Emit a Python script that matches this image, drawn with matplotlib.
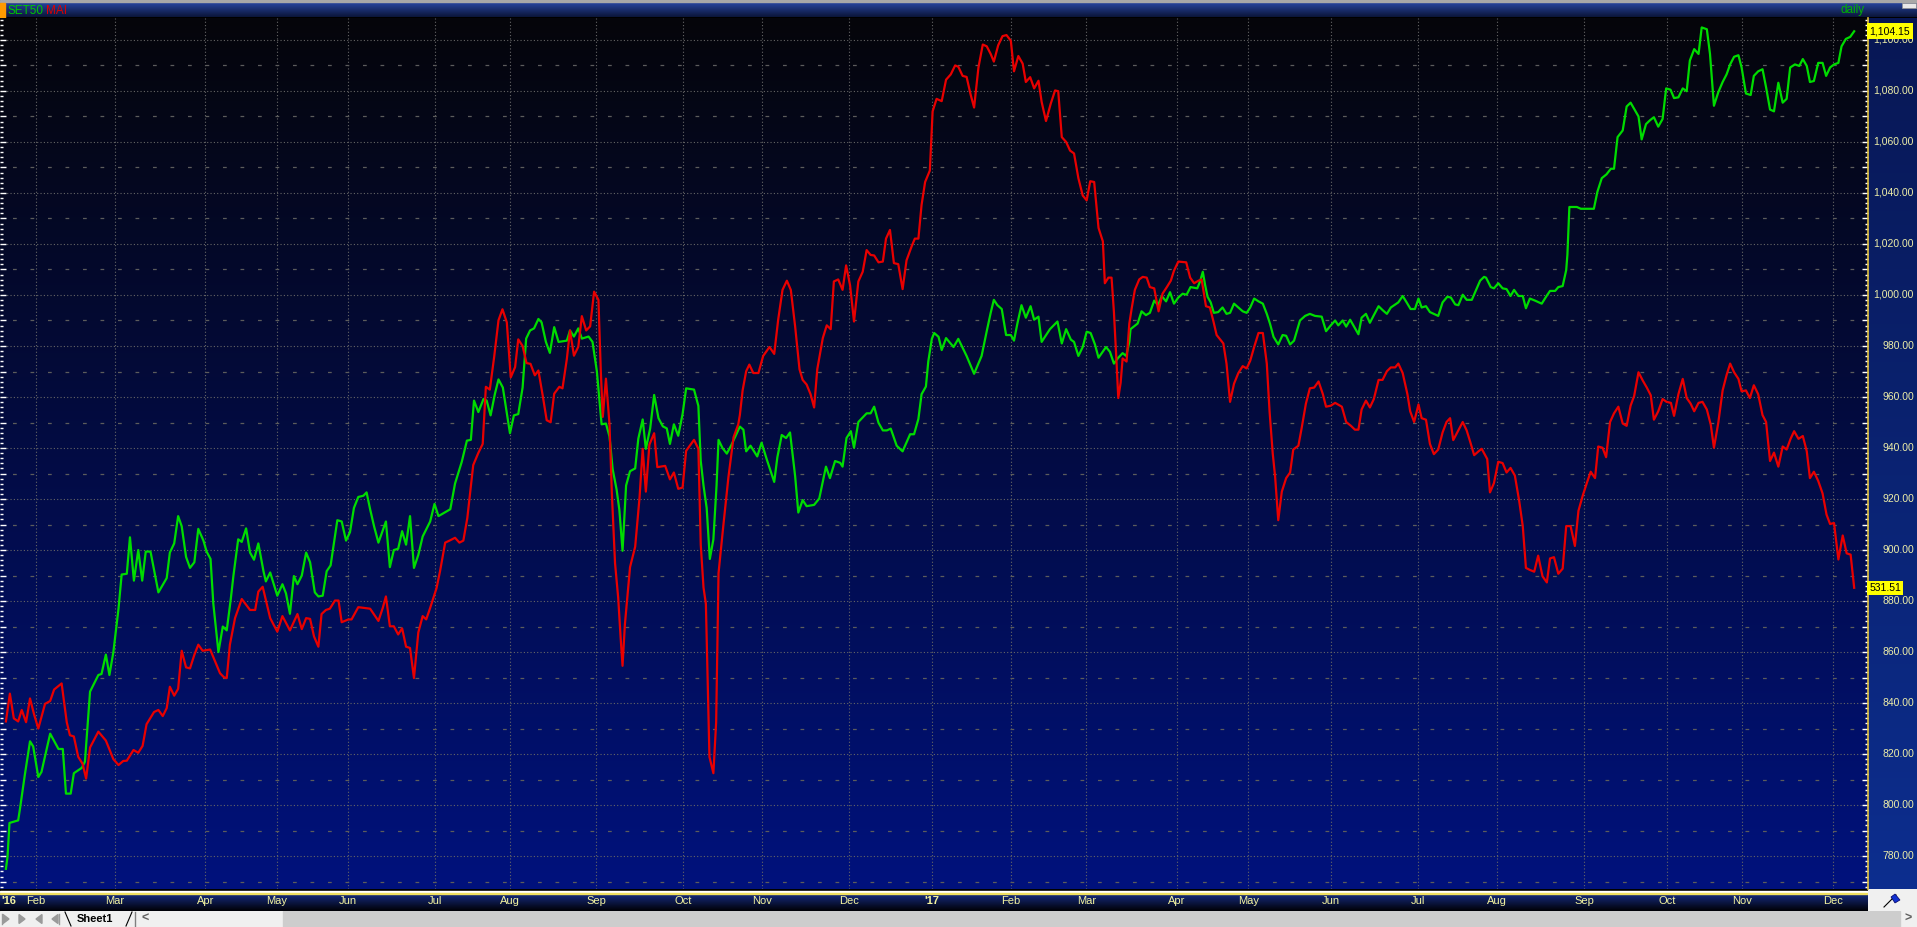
import numpy as np
import matplotlib
matplotlib.use("Agg")
import matplotlib.pyplot as plt
from matplotlib.patches import Rectangle, Polygon
from matplotlib.ticker import MultipleLocator

plt.rcParams['font.family'] = ['Liberation Sans', 'DejaVu Sans']

# trading-day number since the first bar, and close (chart scale)
set50_day = [1.5, 1.9, 2.4, 4.6, 5.1, 6.3, 7.6, 8.4, 9.7, 10.5, 12.7, 14.8, 15.9, 16.7, 17.9, 18.7, 20.7, 21.5,
             22.8, 24.9, 25.7, 26.8, 27.7, 28.7, 30.0, 30.8, 32.1, 32.9, 33.9, 35.0, 36.0, 36.9, 38.1, 40.1, 42.2,
             43.0, 44.1, 45.1, 46.0, 47.1, 48.1, 49.2, 50.2, 51.5, 52.3, 53.3, 54.0, 55.3, 56.4, 57.4, 58.4, 59.1,
             60.3, 61.2, 62.3, 63.3, 64.3, 65.4, 66.7, 67.3, 68.4, 70.2, 71.5, 72.4, 73.4, 74.4, 75.3, 76.4, 77.5,
             78.5, 79.7, 80.6, 81.7, 82.7, 83.7, 85.4, 86.5, 87.6, 88.6, 89.6, 90.7, 92.0, 92.8,
             93.7, 94.7, 95.8, 97.7, 98.7, 99.7, 100.8, 101.8, 102.8, 103.8, 104.8, 105.9, 107.0, 108.9, 110.0,
             111.0, 112.2, 114.0, 115.2, 116.9, 118.2, 119.2, 120.0, 121.1, 122.4, 123.2, 124.2, 125.3, 126.2,
             127.3, 129.1, 130.1, 131.2, 132.3, 133.2, 134.2, 135.2, 136.3, 137.1, 138.2, 139.2, 140.3, 141.4,
             143.5, 144.3, 145.3, 146.4, 147.3, 149.0, 150.0, 151.1, 152.3, 153.4, 154.3, 155.1, 156.1, 156.8,
             157.6, 158.5, 159.5, 160.8, 161.6, 162.7, 163.5, 164.6, 165.6, 166.7, 167.8, 168.8, 169.6, 170.6,
             171.7, 172.8, 173.7, 175.7, 176.8, 177.4, 178.1, 178.9, 179.7, 180.6, 181.4, 181.9, 182.9, 184.0,
             185.2, 186.4,
             187.3, 188.2, 188.9, 190.0, 191.7, 192.8, 194.1, 196.0, 196.8, 197.9, 199.0, 200.0, 201.3, 202.1,
             203.2, 204.2, 206.1, 207.4, 209.1, 210.1, 211.4, 212.7, 213.3, 214.3, 215.4, 216.2, 217.3, 219.4,
             220.4, 221.3, 222.4, 223.5, 224.5, 225.5, 227.0, 228.5, 230.4, 231.4, 232.5, 233.3, 234.4, 235.0,
             235.9, 236.5, 237.6, 238.4, 239.5, 241.4, 242.6, 244.7, 246.6, 248.5, 249.8, 250.8, 251.6, 252.5,
             253.6, 254.7, 255.9, 256.7, 257.6, 258.6, 259.7, 260.9, 261.8, 262.9, 263.7, 265.8, 267.7, 268.8,
             269.9, 271.1, 271.9, 273.0, 274.1, 275.1, 276.1, 277.2, 278.1,
             280.0, 281.0, 282.0, 283.1, 284.2, 285.1, 285.9, 286.2, 288.0, 289.0, 290.1, 291.1, 292.2, 293.2,
             294.1, 295.2, 296.2, 297.2, 298.3, 299.4, 300.4, 301.4, 303.1, 303.8, 304.5, 305.1, 305.7, 306.5,
             307.3, 308.4, 309.5, 310.5, 311.4, 312.4, 314.6, 315.6, 316.5, 317.5, 318.6, 319.7, 320.7, 321.5,
             322.4, 323.6, 324.7, 325.6, 326.6, 327.6, 329.1, 330.4, 331.6, 332.9, 334.6, 335.7, 336.9, 338.0,
             338.8, 339.9, 340.8, 341.8, 343.9, 344.7, 345.8, 346.8, 347.8, 349.0, 350.0, 351.1, 352.1, 354.0,
             355.1, 356.1, 357.1, 358.2, 359.1, 359.9, 361.0, 362.0, 363.0, 364.1, 365.2, 366.4, 367.3, 368.4,
             369.2, 370.3, 371.3, 372.6, 373.7, 374.7, 375.7,
             376.2, 377.4, 378.2, 379.3, 380.4, 381.4, 382.4, 383.3, 384.4, 385.5, 386.3, 387.3, 388.6, 390.3,
             391.4, 392.4, 393.7, 394.5, 395.6, 396.5, 396.8, 397.3, 399.2, 400.2, 403.5, 404.4, 405.5, 406.7,
             407.8, 408.6, 409.5, 410.8, 411.8, 412.8, 413.7, 414.8, 415.6, 416.7, 417.7, 418.7, 419.8, 420.9,
             421.8, 422.9, 423.8, 424.9, 426.0, 427.0, 427.8, 428.9, 430.0, 430.8, 432.1, 432.9, 433.9, 435.0,
             436.1, 437.1, 438.0, 439.0, 440.1, 440.9, 442.0, 443.2, 444.0, 445.1, 446.2, 447.1, 448.1, 449.1,
             450.2, 451.3, 452.3, 453.2, 454.4, 455.5, 456.4, 457.4, 458.2, 459.2, 460.3, 461.4, 462.3, 463.3,
             464.3, 465.4, 466.2, 467.3, 468.4, 469.4]
set50_val = [775, 779.7, 793, 794, 799, 812, 825, 823, 811, 813, 828, 822, 822, 804.5, 804.5, 812.5, 814.6, 817,
             844.5, 851, 851.4, 859, 851, 860, 877, 890.4, 890.7, 905, 888, 900, 888, 899.4, 899.4, 883.4, 889,
             899, 902.6, 913.3, 909.3, 897.3, 893, 895.2, 908.3, 903.7, 899.4, 896.5, 879, 860, 870, 868.5, 880.5,
             890, 904.2, 903.2, 908.5, 899, 896.2, 902.6, 891.7, 887.7, 891.2, 882.1, 886.6, 883, 875, 889.8,
             886.6, 890, 899, 895.2, 883.4, 881.8, 882.1, 891.7, 894, 911.7, 911.2, 903.7, 907, 916.5, 920.8,
             921.3, 922.6,
             916, 909.3, 902.9, 911.2, 893.3, 900, 900.5, 907.4, 902.1, 913.3, 893, 898.1, 905.3, 911.2, 918.1,
             913.3, 914.4, 916, 926.1, 934.6, 942.9, 943.2, 958.6, 954.1, 959.2, 958.6, 952.8, 961.3, 966.9,
             963.7, 945.8, 952.8, 953.3, 963.7, 982.9, 986.1, 986.9, 990.6, 989.3, 981.6, 977.3, 987.4, 981.6,
             982.1, 986.1, 983.7, 986.9, 982.9, 983.7, 981.6, 970.1, 949.3, 949.6, 944.5, 931.7, 923.7, 915.7,
             899.7, 925.3, 930.9, 932, 943.7, 951.2, 939.7, 947.7, 960.8, 951.7, 948.5, 947.7, 941.6, 949.3,
             944.8, 953.3, 963.4, 962.9, 956.5, 934.9, 925.3, 916.5, 896.5, 904.2, 925.3, 943.2, 940, 937.8,
             941.3, 945.3,
             948.4, 947.2, 938.7, 940.9, 936.7, 942.1, 935.6, 926.7, 936.4, 945.1, 943.9, 946.1, 928.9, 914.7,
             919.6, 917.2, 917.7, 920.2, 932.7, 928.2, 934.9, 934.2, 932.7, 943.9, 946.6, 940.1, 950.2, 953.6,
             953.6, 956.2, 949.9, 946.9, 946.9, 947.6, 940.9, 938.7, 945.4, 945.4, 951.4, 961.1, 964.1, 973.9,
             982.8, 985.1, 983.6, 978.4, 983.1, 979.6, 982.8, 976.1, 969.1, 976.1, 985.8, 993, 998.1, 996,
             994.5, 984.3, 984.3, 982.1, 989.1, 996, 991.1, 995.6, 990.3, 991.5, 981.6, 986.6, 989.6, 981,
             986.6, 982.5, 981.6, 976.1, 979.6, 985.6, 985.1, 980.6, 975.4,
             979.6, 977.7, 973.1, 975.4, 977.2, 976.1, 981.6, 986.6, 988.8, 993.6, 992.1, 993, 997.8, 996,
             999.6, 997.5, 1001.1, 996.6, 999, 1000.5, 1000.1, 1003.1, 1002.6, 1005.3, 1009.1, 1003.8, 999.3, 997.1,
             993, 993.3, 995.1, 992.6, 993, 996.6, 993.6, 993, 995.1, 998.6, 997.5, 996.6, 992.6, 988.8,
             983.6, 980.6, 984.3, 984, 980.6, 982.1, 990, 991.8, 992.6, 991.8, 991.5, 985.8, 988.1, 990,
             988.1, 990, 987.6, 990.3, 984.6, 991.1, 992.6, 989.1, 992.1, 995.6, 994.1, 992.6, 995.1, 997.1,
             999.6, 997.1, 994.5, 994.5, 998.6, 995.1, 995.6, 993.3, 992.6, 991.8, 997.1, 999.3, 999, 996.3,
             996, 1000.1, 998.1, 998.1, 1002, 1005.6, 1007.1,
             1006.8, 1003.1, 1002.6, 1004.6, 1002.6, 1002.3, 999.6, 1002, 999.6, 999.6, 994.8, 998.6, 997.8, 996.6,
             999.3, 1001.6, 1001.6, 1003.1, 1003.5, 1009.8, 1015.8, 1034.5, 1034.5, 1033.8, 1033.8, 1040.5, 1045.8, 1047.3,
             1049.5, 1049.5, 1061.9, 1064.5, 1073.9, 1075.4, 1073, 1070, 1061, 1067, 1068.5, 1069.7, 1066, 1069,
             1081, 1080.5, 1077.2, 1077.5, 1081, 1079.9, 1091.9, 1096.4, 1094.5, 1104.9, 1104.2, 1094.5, 1074.2, 1079.5,
             1083.5, 1086.5, 1090.4, 1093.4, 1094, 1089.2, 1079, 1078.4, 1085.9, 1087.7, 1088.5, 1081.4, 1072.7, 1072,
             1083.2, 1075.4, 1076.9, 1089.2, 1090.4, 1089.8, 1092.5, 1089.8, 1083.5, 1083.9, 1091, 1091, 1085.9, 1089.2,
             1090.4, 1091, 1097.5, 1100.4, 1101.2, 1103.4]

mai_day = [1.5, 2.5, 3.5, 4.6, 5.5, 6.6, 7.6, 8.6, 9.7, 11.4, 12.7, 13.7, 15.6, 16.9, 17.7, 18.7, 19.8, 20.9,
           21.8, 22.8, 24.9, 26.8, 28.7, 30.0, 31.2, 32.1, 33.8, 35.0, 36.1, 37.1, 39.0, 40.1, 41.2, 42.2, 43.0,
           44.1, 45.1, 46.0, 47.1, 48.1, 49.2, 50.2, 51.3, 53.2, 54.4, 55.7, 56.7, 57.4, 58.2, 59.5, 61.2, 63.3,
           64.6, 65.4, 66.5, 68.4, 70.2, 71.5, 73.4, 75.3, 76.4, 77.5, 78.5, 79.5, 80.6, 81.4, 82.5, 83.5, 84.8,
           85.7, 86.5, 88.2, 89.0, 90.7,
           93.7, 95.8, 96.9, 97.7, 98.7, 99.7, 100.8, 101.8, 102.8, 103.8, 104.8, 105.9, 107.0, 107.9, 108.9,
           110.5, 111.4, 112.7, 113.8, 115.2, 116.3, 117.3, 118.3, 119.8, 121.1, 122.2, 123.0, 124.0, 125.1,
           126.2, 127.2, 128.3, 129.3, 130.4, 131.2, 132.3, 133.3, 134.3, 135.4, 136.3, 137.4, 138.4, 139.4,
           140.3, 141.6, 142.4, 143.5, 144.3, 145.3, 146.4, 147.3, 148.4, 149.4, 150.4, 151.5, 152.1, 152.6,
           153.4, 154.3, 154.9, 155.7, 156.5, 157.1, 157.6, 158.2, 159.5, 160.8, 161.9, 162.7, 163.5, 164.4,
           165.6, 166.4, 168.4, 169.6, 170.6, 171.7, 172.8, 173.7, 175.7, 176.8, 177.4, 178.1, 178.7, 179.6,
           180.6, 181.3, 181.9, 183.1, 184.4, 185.7, 186.9,
           187.3, 188.0, 188.9, 189.7, 190.7, 192.0, 193.2, 194.8, 196.0, 197.0, 198.1, 199.2, 200.2, 201.3,
           202.4, 203.2, 204.2, 205.2, 206.1, 206.9, 208.3, 209.3, 210.3, 211.1, 212.2, 213.3, 214.2, 215.2,
           216.2, 217.3, 218.4, 219.4, 220.4, 221.3, 222.4, 223.5, 224.3, 225.3, 226.3, 227.4, 228.5, 229.5,
           230.8, 231.6, 232.5, 233.3, 234.2, 235.4, 236.1, 237.1, 238.4, 239.5, 240.7, 241.8, 242.6, 243.7,
           244.7, 245.7, 246.6, 247.7, 248.8, 249.8, 250.8, 251.6, 252.7, 253.8, 254.8, 255.9, 256.7, 257.8,
           258.9, 259.7, 260.8, 261.8, 262.9, 263.7, 264.8, 266.0, 267.1, 267.9, 268.8, 269.9, 270.9, 271.9,
           273.0, 274.1, 275.1, 276.0, 277.0, 278.1,
           279.2, 279.7, 280.6, 281.4, 282.0, 282.7, 283.1, 283.7, 284.2, 285.2, 285.9, 286.5, 287.3, 288.4,
           289.3, 290.3, 291.1, 292.2, 293.3, 294.3, 295.4, 296.4, 297.2, 298.3, 300.3, 301.3, 302.3, 303.4,
           304.2, 305.3, 306.3, 307.2, 308.0, 309.7, 310.5, 311.4, 312.4, 313.5, 314.6, 315.6, 316.5, 317.5,
           318.6, 319.7, 320.7, 321.4, 322.2, 322.8, 323.6, 324.5, 325.6, 326.6, 327.4, 328.7, 329.5, 330.6,
           331.6, 332.7, 333.8, 334.9, 335.7, 336.9, 338.0, 339.7, 340.8, 342.0, 343.0, 343.9, 344.7, 345.8,
           346.8, 347.8, 349.0, 350.0, 351.1, 352.1, 353.2, 354.0, 355.1, 356.3, 357.0, 358.0, 359.1, 359.9,
           361.0, 362.0, 363.0, 364.1, 365.2, 366.2, 367.1, 367.9, 369.2, 370.3, 371.3, 372.2, 373.2, 374.3,
           375.1,
           376.5, 377.2, 378.2, 379.3, 380.4, 381.4, 382.4, 383.5, 384.6, 385.5, 386.3, 387.3, 388.4, 389.4,
           390.5, 391.6, 392.4, 393.4, 394.5, 395.6, 396.5, 397.6, 398.7, 399.6, 400.7, 401.7, 402.7, 403.8,
           404.6, 405.7, 406.6, 407.6, 408.6, 409.7, 410.8, 411.8, 412.8, 413.7, 414.8, 415.9, 416.9, 417.9,
           418.7, 419.8, 420.9, 421.9, 423.0, 423.8, 424.9, 426.0, 427.0, 428.0, 428.9, 430.0, 431.0, 432.1,
           433.1, 433.9, 435.0, 436.1, 437.1, 438.0, 439.0, 440.1, 440.9, 442.0, 443.0, 444.0, 445.1, 446.2,
           447.1, 448.1, 449.1, 450.2, 451.3, 452.3, 453.3, 454.2, 455.3, 456.4, 457.4, 458.2, 459.2, 460.3,
           461.4, 462.4, 463.3, 464.3, 465.4, 466.5, 467.5, 468.5, 469.4]
mai_val = [832.8, 843.7, 834, 832.8, 837.3, 832.5, 841.8, 835.7, 830, 839.7, 840.8, 845.3, 847.7, 832.5, 827.4,
           826.9, 818.9, 816.2, 810.4, 822.6, 828.8, 825.3, 818, 815.7, 817.3, 817.4, 821.6, 820.5, 823.2, 831.7,
           836.5, 837.3, 834.9, 838, 846.4, 842.9, 845.6, 860.5, 854, 853.6, 858.9, 862.9, 860.5, 861, 856.5,
           851.7, 850.1, 849.8, 862.9, 873.3, 880.8, 876.5, 876.5, 883.7, 885.6, 873.3, 868, 874.1, 868.5, 874.9,
           869, 873.3, 873, 866.1, 862.1, 874.9, 876.5, 877, 880.2, 880.2, 871.7, 872.8, 872.8, 877.6,
           877, 872.2, 877.3, 881.8, 870.1, 870.1, 866.9, 869.3, 862.1, 861.6, 849.8, 867.7, 874.1, 872.8, 877.3,
           885, 891.7, 902.9, 903.7, 904.8, 902.9, 903.7, 912.5, 933.3, 938.1, 941.6, 964, 962.9, 975.7,
           990.1, 994.4, 989.3, 967.7, 971.7, 982.6, 980, 973.3, 973, 968.5, 970.4, 960.5, 950.9, 950.1,
           961.3, 964, 963.4, 974.9, 986.1, 976.2, 979.7, 991.7, 986.1, 987.7, 1001.3, 998.1, 970.1, 952.2,
           967.2, 949.3, 922.1, 894.9, 881.3, 866.1, 854.6, 870.9, 893.3, 901.3, 920.5, 939.7, 922.9, 941.3,
           945.8, 932.5, 933, 927.7, 930.4, 924, 924.5, 938.9, 943.2, 939.7, 902.1, 885.3, 878.9, 818.9,
           812.5, 832.5, 890.9, 909.3, 928.5, 944.2, 949.3,
           952.9, 962.6, 970.1, 972.7, 969.4, 969.4, 976.1, 979.6, 976.9, 990.3, 1002, 1005.6, 1002, 987.6,
           970.9, 966.7, 964.9, 961.1, 955.9, 970.9, 983.1, 988.1, 986.6, 1005.3, 1006.1, 1002, 1011.6, 1003.8,
           989.6, 1005.3, 1009.1, 1017.6, 1015.7, 1015.5, 1012.8, 1013.1, 1022.1, 1025.5, 1012.5, 1012.1, 1002.3, 1013.6,
           1019.1, 1022.1, 1022.1, 1035.3, 1044.3, 1048.8, 1072, 1076.9, 1076, 1084.4, 1086.5, 1090, 1089.5, 1085.9,
           1085.5, 1078.7, 1073.5, 1089.2, 1098.2, 1097.5, 1094.5, 1091.5, 1097.9, 1101.5, 1101.9, 1099.7, 1087.7, 1093.7,
           1090.7, 1083.5, 1085.4, 1081, 1084, 1075.7, 1068.2, 1075, 1080.2, 1079.9, 1061.9, 1060, 1056.6, 1055.5,
           1045.8, 1039, 1037.1, 1044.6, 1044.3, 1026.3,
           1021, 1004.6, 1006.8, 1006.8, 993.3, 972.4, 959.6, 965.6, 975.1, 973.9, 988.8, 994.8, 1002, 1006.1,
           1007.1, 1006.8, 1003.1, 1002.6, 993.6, 1000.5, 1003.1, 1005.6, 1009.5, 1013.1, 1012.8, 1006.8, 1004.6, 1005.6,
           1006.1, 995.6, 995.1, 989.6, 984.3, 981, 973.1, 958.1, 965.2, 969.4, 972.1, 971.2, 974.2, 979.6,
           985.1, 985.1, 973.1, 954.4, 937.9, 928.9, 911.7, 922.9, 928.2, 930.4, 939.4, 940.9, 947.6, 957.4,
           963.4, 963.7, 966.1, 961.1, 956.2, 956.6, 957.7, 956.2, 950.2, 948.7, 947.2, 947.2, 955.1, 958.6,
           955.9, 959.2, 966.7, 966.7, 970.1, 971.6, 971.6, 973.1, 969.4, 961.1, 954.4, 950.2, 957.1, 951.7,
           951.1, 941.6, 937.6, 939.4, 946.1, 950.2, 951.7, 943.1, 946.9, 950.2, 946.9, 942.4, 937.2, 938.7,
           939.7,
           935.7, 922.6, 926.2, 934.6, 934.1, 930.4, 932.2, 929.2, 919.2, 909.4, 893, 892.2, 891.5, 897.8,
           889.7, 887.3, 896.7, 897.2, 890.7, 892.7, 909.4, 909.4, 901.6, 915.4, 921.4, 926.2, 930.7, 928.2,
           940.6, 940.1, 936.4, 950.2, 953.6, 956.2, 949.6, 948.7, 956.6, 960.4, 969.7, 966.4, 963.7, 960.7,
           951.1, 954.4, 959.2, 958.1, 957.7, 952.6, 961.1, 967.1, 959.6, 957.4, 954.4, 957.7, 958.1, 955.1,
           949.1, 940.1, 949.9, 962.6, 968.6, 973.1, 969.7, 967.1, 962.2, 962.6, 959.6, 964.6, 961.1, 952.9,
           950.2, 934.9, 938.2, 932.7, 940.6, 939.4, 943.6, 946.6, 943.6, 944.7, 938.7, 928.2, 930.7, 927.1,
           922.2, 913.9, 910.2, 910.6, 896.3, 905.7, 898.7, 898.2, 885.2]

# month labels and the trading-day number where each month starts
month_names = ['Feb', 'Mar', 'Apr', 'May', 'Jun', 'Jul', 'Aug', 'Sep', 'Oct', 'Nov', 'Dec', "'17",
               'Feb', 'Mar', 'Apr', 'May', 'Jun', 'Jul', 'Aug', 'Sep', 'Oct', 'Nov', 'Dec']
month_start = [9, 29, 52, 70, 88, 110, 129, 151, 173, 193, 215, 236,
               256, 275, 298, 316, 337, 359, 379, 401, 422, 441, 464]
last_labels = ['1,104.15', '531.51']

W, H = 1917, 927
XMAX = 472.9
YMIN, YMAX = 767.1, 1108.6


def box(x0, y0, x1, y1):
    return [x0 / W, 1 - y1 / H, (x1 - x0) / W, (y1 - y0) / H]


def vgrad(ax, top, bottom, extent, z=0):
    c = np.linspace(np.array(top), np.array(bottom), 256)[:, None, :]
    ax.imshow(c, extent=extent, aspect='auto', origin='upper', zorder=z, interpolation='bilinear')


fig = plt.figure(figsize=(W / 100, H / 100), dpi=100)
fig.patch.set_facecolor('black')

# right scale panel
rp = fig.add_axes(box(1868, 18, 1917, 889), zorder=0)
vgrad(rp, (0.03, 0.09, 0.33), (0.05, 0.18, 0.56), [0, 1, 0, 1])
rp.set_xlim(0, 1)
rp.set_ylim(0, 1)
rp.axis('off')

# main chart
ax = fig.add_axes(box(0, 18, 1868, 889), zorder=2)
vgrad(ax, (0.02, 0.02, 0.04), (0.0, 0.07, 0.49), [0, XMAX, YMIN, YMAX])
ax.set_xlim(0, XMAX)
ax.set_ylim(YMIN, YMAX)

for d in month_start:
    ax.axvline(d, color='#666666', lw=0.8, ls=(0, (1, 2)), zorder=1)
for v in range(780, 1101, 20):
    ax.axhline(v, color='#666666', lw=0.8, ls=(0, (1, 2)), zorder=1)
for v in range(770, 1101, 20):
    ax.axhline(v, color='#5c5c5c', lw=0.9, ls=(4, (3, 11)), zorder=1)

ax.plot(set50_day, set50_val, color='#00dc00', lw=1.6, zorder=3)
ax.plot(mai_day, mai_val, color='#e80000', lw=1.6, zorder=4)

ax.set_xticks([])
ax.yaxis.set_major_locator(MultipleLocator(10))
ax.yaxis.set_minor_locator(MultipleLocator(2))
ax.tick_params(axis='y', which='both', direction='in', left=True, right=True,
               labelleft=False, labelright=False, colors='white', width=1)
ax.tick_params(axis='y', which='major', length=4)
ax.tick_params(axis='y', which='minor', length=2.5)
for s in ['top', 'bottom', 'left']:
    ax.spines[s].set_visible(False)
ax.spines['right'].set_color('#e0c040')
ax.spines['right'].set_linewidth(1.2)

ytr = ax.get_yaxis_transform()
for v in range(780, 1101, 20):
    ax.text(1914 / 1868, v, f"{v:,.2f}", transform=ytr, ha='right', va='center',
            color='#eeeea8', fontsize=7.5, clip_on=False)

ax.text(1869.5 / 1868, set50_val[-1], last_labels[0], transform=ytr, ha='left', va='center',
        color='black', fontsize=7.5, clip_on=False, zorder=6,
        bbox=dict(facecolor='#ffff00', edgecolor='none', pad=2))
ax.text(1869.5 / 1868, mai_val[-1], last_labels[1], transform=ytr, ha='left', va='center',
        color='black', fontsize=7.5, clip_on=False, zorder=6,
        bbox=dict(facecolor='#ffff00', edgecolor='none', pad=1.5))

# title bar
tb = fig.add_axes(box(0, 0, 1917, 18), zorder=1)
tb.set_xlim(0, W)
tb.set_ylim(18, 0)
tb.axis('off')
tb.add_patch(Rectangle((0, 0), W, 18, color='black', zorder=0))
vgrad(tb, (0.16, 0.28, 0.64), (0.04, 0.08, 0.22), [0, W, 17, 2], z=1)
tb.add_patch(Rectangle((0, 0), W, 2, color='#a8a8a8', zorder=2))
tb.add_patch(Rectangle((0, 3), 5, 15, color='#ff9a00', zorder=2))
tb.add_patch(Rectangle((1902, 3), 14, 5, facecolor='#e8e8e8', edgecolor='#909090', lw=0.5, zorder=2))
tb.set_xlim(0, W)
tb.set_ylim(18, 0)
tb.text(7, 10.5, 'SET50', color='#00c800', fontsize=8.5, va='center', ha='left', zorder=3)
tb.text(46, 10.5, 'MAI', color='#e00000', fontsize=8.5, va='center', ha='left', zorder=3)
tb.text(1865, 9.5, 'daily', color='#00b400', fontsize=8.5, va='center', ha='right', zorder=3)

# date axis bar
bb = fig.add_axes(box(0, 889, 1868, 911), zorder=1)
bb.add_patch(Rectangle((0, 0), XMAX, 22, color='black', zorder=0))
vgrad(bb, (0.09, 0.18, 0.52), (0.0, 0.0, 0.02), [0, XMAX, 22, 5], z=1)
bb.axhspan(1.6, 2.6, color='white', zorder=2)
bb.axhspan(3.6, 4.6, color='#f0e060', zorder=2)
bb.set_xlim(0, XMAX)
bb.set_ylim(22, 0)
bb.axis('off')
bb.text(0.3, 12, "'16", color='#f4f4a0', fontsize=8, fontweight='bold', ha='left', va='center', zorder=3)
for name, d in zip(month_names, month_start):
    bb.text(d, 12, name, color='#f4f4a0', fontsize=8, ha='center', va='center', zorder=3,
            fontweight='bold' if name.startswith("'") else 'normal')

# corner with flag icon
cc = fig.add_axes(box(1868, 889, 1917, 911), zorder=1)
cc.set_xlim(1868, 1917)
cc.set_ylim(911, 889)
cc.axis('off')
cc.add_patch(Rectangle((1868, 889), 49, 22, color='#f0f0f0', zorder=0))
cc.plot([1884, 1896], [907, 895], color='black', lw=0.8, zorder=2)
cc.add_patch(Polygon([(1891, 897), (1895, 894), (1900, 900), (1895, 903)], closed=True,
                     facecolor='#1030d0', edgecolor='#000060', lw=0.5, zorder=3))

# sheet tab bar
sb = fig.add_axes(box(0, 911, 1917, 927), zorder=1)
sb.set_xlim(0, W)
sb.set_ylim(927, 911)
sb.axis('off')
sb.add_patch(Rectangle((0, 911), W, 16, color='#f0f0f0', zorder=0))
sb.add_patch(Rectangle((283, 911), 1617, 16, color='#cdcdcd', zorder=1))
for xc, dirn in [(6, -1), (22, -1), (39, 1), (55, 1)]:
    sb.add_patch(Polygon([(xc - 3 * dirn, 919), (xc + 3 * dirn, 914.5), (xc + 3 * dirn, 923.5)],
                         closed=True, color='#9a9a9a', zorder=2))
sb.plot([2, 2], [914, 924], color='#9a9a9a', lw=1, zorder=2)
sb.plot([59, 59], [914, 924], color='#9a9a9a', lw=1, zorder=2)
sb.plot([65, 71], [912, 926], color='black', lw=0.8, zorder=2)
sb.plot([126, 132], [926, 912], color='black', lw=0.8, zorder=2)
sb.plot([135, 135], [912, 927], color='#808080', lw=1, zorder=2)
sb.text(77, 919, 'Sheet1', color='black', fontsize=8, fontweight='bold', ha='left', va='center', zorder=3)
sb.text(145, 919, '<', color='#606060', fontsize=9, fontweight='bold', ha='center', va='center', zorder=3)
sb.text(1908, 919, '>', color='#606060', fontsize=9, fontweight='bold', ha='center', va='center', zorder=3)

fig.savefig('out.png', dpi=100, facecolor=fig.get_facecolor())
